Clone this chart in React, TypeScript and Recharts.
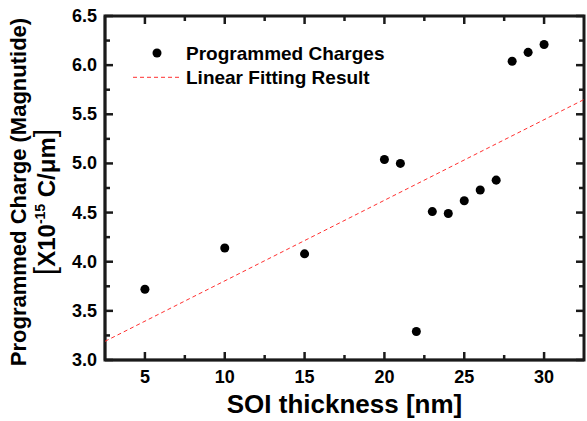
import React from "react";
import { ScatterChart, Scatter, XAxis, YAxis, ReferenceArea } from "recharts";

// SOI thickness [nm] vs programmed charge [x1e-15 C/um]
const thickness = [5, 10, 15, 20, 21, 22, 23, 24, 25, 26, 27, 28, 29, 30];
const charge = [3.72, 4.14, 4.08, 5.04, 5.0, 3.29, 4.51, 4.49, 4.62, 4.73, 4.83, 6.04, 6.13, 6.21];

const fitX = [2.5, 32.5];
const fitY = [3.19, 5.65];

const xTicks = [5, 7.5, 10, 12.5, 15, 17.5, 20, 22.5, 25, 27.5, 30];
const yTicks = [3.0, 3.25, 3.5, 3.75, 4.0, 4.25, 4.5, 4.75, 5.0, 5.25, 5.5, 5.75, 6.0, 6.25, 6.5];

const seriesNames = ["Programmed Charges", "Linear Fitting Result"];

const points = thickness.map((x, i) => ({ x, y: charge[i] }));
const fitLine = fitX.map((x, i) => ({ x, y: fitY[i] }));

const W = 587;
const H = 421;
const MARGIN = { top: 16, right: 3, left: 0, bottom: 0 };
const Y_AXIS_W = 105;
const X_AXIS_H = 61;
const PLOT_W = W - MARGIN.right - MARGIN.left - Y_AXIS_W;
const PLOT_H = H - MARGIN.top - MARGIN.bottom - X_AXIS_H;

const FONT = "Arial, 'Liberation Sans', sans-serif";
const FIT_RED = "#ff3030";
const INK = "#1a1a1a";
const LW = 2.5;

const isMajorX = (v: number) => v % 5 === 0;
const isMajorY = (v: number) => Math.abs(v * 2 - Math.round(v * 2)) < 1e-6;

// bottom tick + mirrored top tick, both pointing inward
function XTick({ x, y, payload }: any) {
  const v = payload.value;
  const len = isMajorX(v) ? 8 : 5;
  return (
    <g>
      <line x1={x} y1={y} x2={x} y2={y - len} stroke={INK} strokeWidth={LW} />
      <line x1={x} y1={y - PLOT_H} x2={x} y2={y - PLOT_H + len} stroke={INK} strokeWidth={LW} />
      {isMajorX(v) && (
        <text x={x} y={y + 23} textAnchor="middle" fontFamily={FONT} fontWeight="bold" fontSize={18} fill="#000">
          {v}
        </text>
      )}
    </g>
  );
}

// left tick + mirrored right tick
function YTick({ x, y, payload }: any) {
  const v = payload.value;
  const len = isMajorY(v) ? 8 : 5;
  return (
    <g>
      <line x1={x} y1={y} x2={x + len} y2={y} stroke={INK} strokeWidth={LW} />
      <line x1={x + PLOT_W} y1={y} x2={x + PLOT_W - len} y2={y} stroke={INK} strokeWidth={LW} />
      {isMajorY(v) && (
        <text x={x - 8} y={y + 6} textAnchor="end" fontFamily={FONT} fontWeight="bold" fontSize={18} fill="#000">
          {v.toFixed(1)}
        </text>
      )}
    </g>
  );
}

// plot frame with axis titles and legend
function Frame({ x, y, width, height }: any) {
  const lx = x + 15;
  const ly = y + 19;
  return (
    <g>
      <rect x={x} y={y} width={width} height={height} fill="rgba(255,255,255,0)" stroke={INK} strokeWidth={LW + 0.5} />
      <g fontFamily={FONT} fontWeight="bold" fill="#000">
        <text x={x + width / 2} y={y + height + 53} textAnchor="middle" fontSize={26}>
          SOI thickness [nm]
        </text>
        <text transform={`translate(26,${y + height / 2 + 4}) rotate(-90)`} textAnchor="middle" fontSize={22}>
          Programmed Charge (Magnutide)
        </text>
        <text transform={`translate(55,${y + height / 2 + 14}) rotate(-90)`} textAnchor="middle" fontSize={24}>
          <tspan fontWeight="normal" fontSize={30}>[</tspan>
          <tspan>X10</tspan>
          <tspan dy={-10} fontSize={14}>-15</tspan>
          <tspan dy={10}> C/μm</tspan>
          <tspan fontWeight="normal" fontSize={30}>]</tspan>
        </text>
        <g fontSize={19}>
          <circle cx={lx + 37} cy={ly + 18} r={4.5} fill="#000" />
          <text x={lx + 66} y={ly + 24.5}>{seriesNames[0]}</text>
          <path d={`M${lx + 13},${ly + 42.3}H${lx + 60}`} stroke={FIT_RED} strokeWidth={1} strokeDasharray="4 3" fill="none" />
          <text x={lx + 66} y={ly + 48.5}>{seriesNames[1]}</text>
        </g>
      </g>
    </g>
  );
}

export default function App() {
  return (
    <div style={{ position: "absolute", left: 0, top: 0 }}>
      <ScatterChart width={W} height={H} margin={MARGIN}>
        <XAxis
          dataKey="x"
          type="number"
          domain={[2.5, 32.5]}
          ticks={xTicks}
          interval={0}
          height={X_AXIS_H}
          tickSize={0}
          tickMargin={0}
          tickLine={false}
          tick={<XTick />}
          axisLine={{ stroke: INK, strokeWidth: LW }}
        />
        <YAxis
          dataKey="y"
          type="number"
          domain={[3, 6.5]}
          ticks={yTicks}
          interval={0}
          width={Y_AXIS_W}
          tickSize={0}
          tickMargin={0}
          tickLine={false}
          tick={<YTick />}
          axisLine={{ stroke: INK, strokeWidth: LW }}
        />
        <ReferenceArea x1={2.5} x2={32.5} y1={3} y2={6.5} ifOverflow="visible" shape={<Frame />} />
        <Scatter
          name={seriesNames[1]}
          data={fitLine}
          line={{ stroke: FIT_RED, strokeWidth: 1, strokeDasharray: "4 3" }}
          lineType="joint"
          shape={() => <g />}
          isAnimationActive={false}
        />
        <Scatter name={seriesNames[0]} data={points} fill="#000" isAnimationActive={false} />
      </ScatterChart>
    </div>
  );
}
